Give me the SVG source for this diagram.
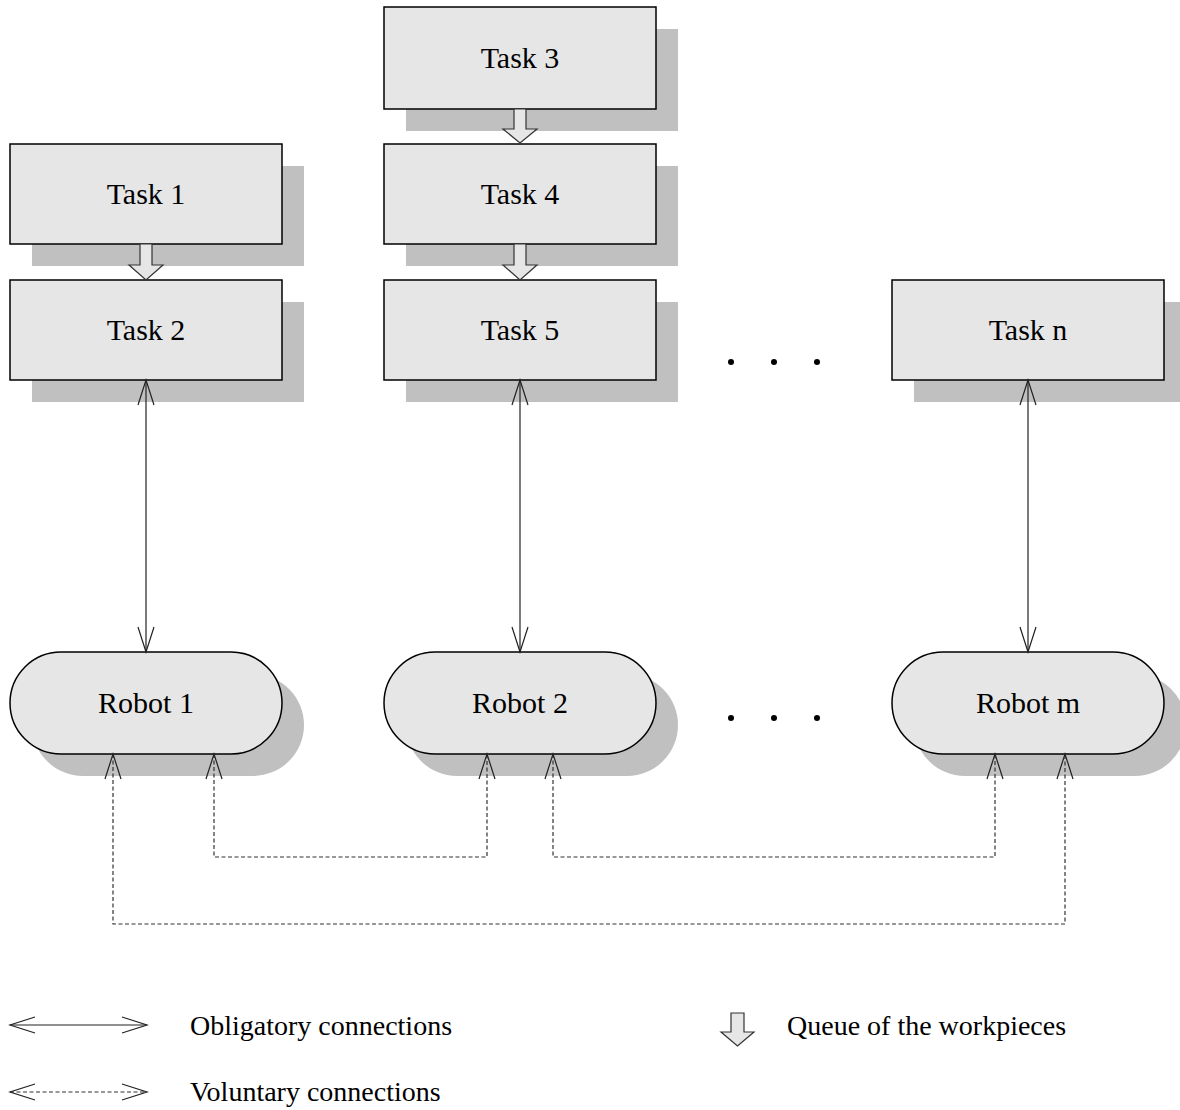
<svg xmlns="http://www.w3.org/2000/svg" width="1180" height="1110" viewBox="0 0 1180 1110">
  <style>
    .box { fill: #e6e6e6; stroke: #000; stroke-width: 1.5; }
    .shadow { fill: #c0c0c0; stroke: none; }
    .label { font-family: "Liberation Serif", "Times New Roman", serif; font-size: 30px; fill: #000; text-anchor: middle; }
    .legend { font-family: "Liberation Serif", "Times New Roman", serif; font-size: 28px; fill: #000; }
    .solid { fill: none; stroke: #222; stroke-width: 1.2; }
    .dashed { fill: none; stroke: #333; stroke-width: 1.2; stroke-dasharray: 4 2.5; }
    .queue { fill: #e6e6e6; stroke: #333; stroke-width: 1.2; }
    .dot { fill: #000; }
  </style>
  <defs>
    <marker id="open-arrow" viewBox="-26 -10 28 20" refX="0" refY="0" markerWidth="28" markerHeight="20" markerUnits="userSpaceOnUse" orient="auto-start-reverse">
      <path d="M-25,-8 L0,0 L-25,8" fill="none" stroke="#222" stroke-width="1.2"/>
    </marker>
  </defs>

  <!-- Task nodes -->
  <g id="task3">
    <rect class="shadow" x="406" y="29" width="272" height="102"/>
    <rect class="box" x="384" y="7" width="272" height="102"/>
    <text class="label" x="520" y="68">Task 3</text>
  </g>
  <g id="task1">
    <rect class="shadow" x="32" y="166" width="272" height="100"/>
    <rect class="box" x="10" y="144" width="272" height="100"/>
    <text class="label" x="146" y="204">Task 1</text>
  </g>
  <g id="task4">
    <rect class="shadow" x="406" y="166" width="272" height="100"/>
    <rect class="box" x="384" y="144" width="272" height="100"/>
    <text class="label" x="520" y="204">Task 4</text>
  </g>
  <g id="task2">
    <rect class="shadow" x="32" y="302" width="272" height="100"/>
    <rect class="box" x="10" y="280" width="272" height="100"/>
    <text class="label" x="146" y="340">Task 2</text>
  </g>
  <g id="task5">
    <rect class="shadow" x="406" y="302" width="272" height="100"/>
    <rect class="box" x="384" y="280" width="272" height="100"/>
    <text class="label" x="520" y="340">Task 5</text>
  </g>
  <g id="taskn">
    <rect class="shadow" x="914" y="302" width="272" height="100"/>
    <rect class="box" x="892" y="280" width="272" height="100"/>
    <text class="label" x="1028" y="340">Task n</text>
  </g>

  <!-- Queue arrows between consecutive tasks -->
  <g id="queues">
    <polygon class="queue" points="514,109 526,109 526,129 537,129 520,143 503,129 514,129"/>
    <polygon class="queue" points="140,244 152,244 152,265 163,265 146,280 129,265 140,265"/>
    <polygon class="queue" points="514,244 526,244 526,265 537,265 520,280 503,265 514,265"/>
  </g>

  <!-- Robot nodes -->
  <g id="robot1">
    <rect class="shadow" x="32" y="674" width="272" height="102" rx="51"/>
    <rect class="box" x="10" y="652" width="272" height="102" rx="51"/>
    <text class="label" x="146" y="713">Robot 1</text>
  </g>
  <g id="robot2">
    <rect class="shadow" x="406" y="674" width="272" height="102" rx="51"/>
    <rect class="box" x="384" y="652" width="272" height="102" rx="51"/>
    <text class="label" x="520" y="713">Robot 2</text>
  </g>
  <g id="robotm">
    <rect class="shadow" x="914" y="674" width="272" height="102" rx="51"/>
    <rect class="box" x="892" y="652" width="272" height="102" rx="51"/>
    <text class="label" x="1028" y="713">Robot m</text>
  </g>

  <!-- Ellipses -->
  <g id="ellipsis">
    <circle class="dot" cx="731" cy="362" r="3"/>
    <circle class="dot" cx="774" cy="362" r="3"/>
    <circle class="dot" cx="817" cy="362" r="3"/>
    <circle class="dot" cx="731" cy="718" r="3"/>
    <circle class="dot" cx="774" cy="718" r="3"/>
    <circle class="dot" cx="817" cy="718" r="3"/>
  </g>

  <!-- Connectors -->
  <g id="connectors">
    <path class="solid" d="M146,380 V652" marker-start="url(#open-arrow)" marker-end="url(#open-arrow)"/>
    <path class="solid" d="M520,380 V652" marker-start="url(#open-arrow)" marker-end="url(#open-arrow)"/>
    <path class="solid" d="M1028,380 V652" marker-start="url(#open-arrow)" marker-end="url(#open-arrow)"/>
    <path class="dashed" d="M214,754 V857 H487 V754" marker-start="url(#open-arrow)" marker-end="url(#open-arrow)"/>
    <path class="dashed" d="M553,754 V857 H995 V754" marker-start="url(#open-arrow)" marker-end="url(#open-arrow)"/>
    <path class="dashed" d="M113,754 V924 H1065 V754" marker-start="url(#open-arrow)" marker-end="url(#open-arrow)"/>
  </g>

  <!-- Legend -->
  <g id="legend">
    <path class="solid" d="M10,1025 H147" marker-start="url(#open-arrow)" marker-end="url(#open-arrow)"/>
    <text class="legend" x="190" y="1035">Obligatory connections</text>
    <path class="dashed" d="M10,1092 H147" marker-start="url(#open-arrow)" marker-end="url(#open-arrow)"/>
    <text class="legend" x="190" y="1101">Voluntary connections</text>
    <polygon class="queue" points="731,1013 744,1013 744,1032 754,1032 737.5,1046 721,1032 731,1032"/>
    <text class="legend" x="787" y="1035">Queue of the workpieces</text>
  </g>
</svg>
